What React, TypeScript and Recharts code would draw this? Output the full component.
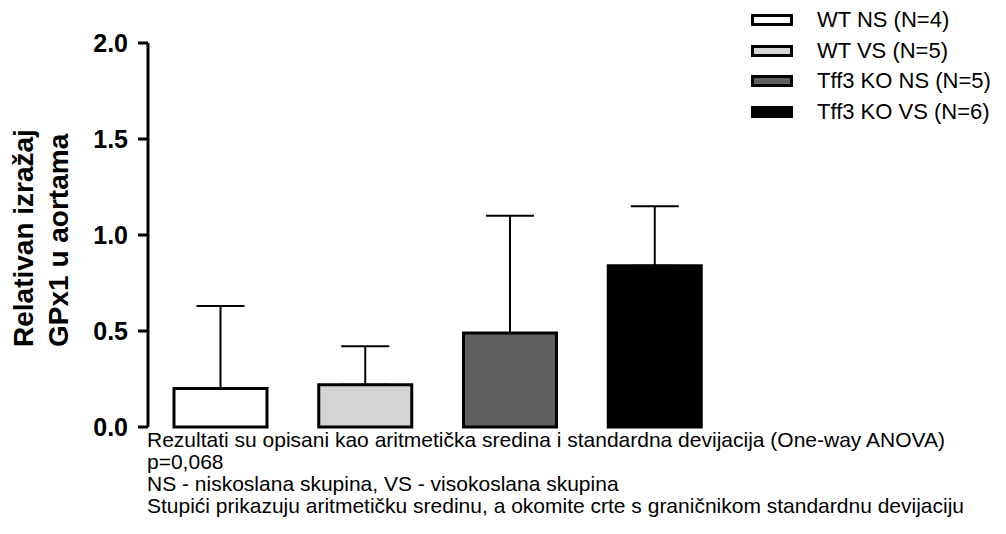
import React from "react";
import { BarChart, Bar, Cell, XAxis, YAxis, ErrorBar } from "recharts";

const groups = ["WT NS (N=4)", "WT VS (N=5)", "Tff3 KO NS (N=5)", "Tff3 KO VS (N=6)"];
const means = [0.2, 0.22, 0.49, 0.84];
const sds = [0.43, 0.2, 0.61, 0.31];
const fills = ["#ffffff", "#d4d4d4", "#606060", "#000000"];
const yTicks = [0, 0.5, 1, 1.5, 2];
const notes = [
  "Rezultati su opisani kao aritmetička sredina i standardna devijacija (One-way ANOVA)",
  "p=0,068",
  "NS - niskoslana skupina, VS - visokoslana skupina",
  "Stupići prikazuju aritmetičku sredinu, a okomite crte s graničnikom standardnu devijaciju",
];

const data = groups.map((g, i) => ({ name: g, mean: means[i], err: [0, sds[i]] }));

const FONT = "'Liberation Sans', Arial, sans-serif";

function YTitle() {
  return (
    <g fontFamily={FONT} fontWeight="bold" fontSize={28} fill="#000">
      <text x={33} y={347} transform="rotate(-90, 33, 347)" textAnchor="start">Relativan izražaj</text>
      <text x={68} y={347} transform="rotate(-90, 68, 347)" textAnchor="start">GPx1 u aortama</text>
    </g>
  );
}

function LegendBox() {
  return (
    <div style={{ position: "absolute", left: 751, top: 5, fontFamily: FONT, fontSize: 22, color: "#000" }}>
      {groups.map((g, i) => (
        <div key={g} style={{ display: "flex", alignItems: "center", height: 30.5 }}>
          <div style={{ width: 36, height: 6, border: "3px solid #000", background: fills[i], marginRight: 24 }} />
          <span>{g}</span>
        </div>
      ))}
    </div>
  );
}

export default function App() {
  return (
    <div style={{ position: "absolute", left: 0, top: 0, width: 1006, height: 534, background: "#fff" }}>
      <BarChart width={1006} height={534} data={data} margin={{ top: 43, right: 279, bottom: 107, left: 0 }} barSize={93}>
        <XAxis dataKey="name" tick={false} tickLine={false} height={0} axisLine={{ stroke: "#000", strokeWidth: 3 }} />
        <YAxis
          domain={[0, 2]}
          ticks={yTicks}
          width={148}
          interval={0}
          tickFormatter={(v: number) => v.toFixed(1)}
          tick={{ fill: "#000", fontSize: 25, fontWeight: "bold", fontFamily: FONT }}
          tickSize={10}
          tickMargin={10}
          tickLine={{ stroke: "#000", strokeWidth: 3 }}
          axisLine={{ stroke: "#000", strokeWidth: 3 }}
          label={<YTitle />}
        />
        <Bar dataKey="mean" stroke="#000" strokeWidth={3} isAnimationActive={false}>
          {data.map((d, i) => (
            <Cell key={d.name} fill={fills[i]} />
          ))}
          <ErrorBar dataKey="err" width={24} stroke="#000" strokeWidth={2} direction="y" isAnimationActive={false} />
        </Bar>
      </BarChart>
      <LegendBox />
      <div style={{ position: "absolute", left: 147, top: 429, fontFamily: FONT, fontSize: 21, lineHeight: "22px", color: "#000" }}>
        {notes.map((n) => (
          <div key={n}>{n}</div>
        ))}
      </div>
    </div>
  );
}
